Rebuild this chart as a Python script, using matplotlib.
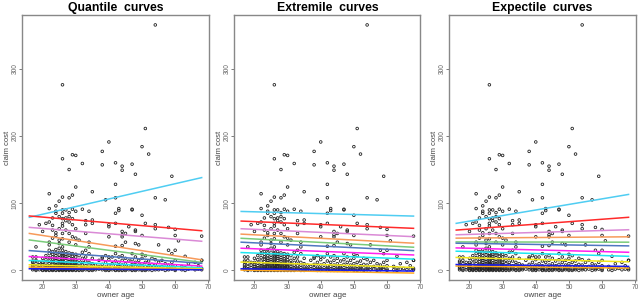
import matplotlib
matplotlib.use("Agg")
import matplotlib.pyplot as plt
import numpy as np

plt.rcParams["font.family"] = ["Liberation Sans", "DejaVu Sans"]

# --- scatter data (owner age, claim cost) ---
hi_age = [54, 26, 51, 40, 50, 38, 52, 29, 30, 26, 42, 32, 47, 38, 44, 44, 28, 48, 59,
          42, 30, 35, 22, 29, 28, 42, 54, 39, 57, 26, 25, 24, 22]
hi_cost = [365, 276, 211, 191, 184, 177, 173, 172, 171, 166, 160, 159, 158, 157, 155, 149,
           150, 143, 140, 128, 124, 117, 114, 112, 108, 108, 108, 105, 105, 109, 103, 96, 92]

mid_age = [22, 23, 23, 24, 24, 25, 25, 26, 26, 26, 26, 26, 26, 26, 27, 27, 27, 27, 28, 28,
           28, 28, 29, 29, 29, 30, 30, 30, 31, 32, 33, 33, 34, 34, 35, 35, 33, 20, 19, 21,
           22, 22, 23, 23, 24, 24, 25, 25, 26, 28, 29, 30, 40, 40, 40, 42, 43, 43, 42, 44,
           44, 44, 45, 46, 47, 47, 48, 48, 48, 49, 50, 50, 51, 54, 54, 55, 58, 58, 59, 60,
           60, 60, 61, 63, 68, 68, 45, 42, 44, 38, 39, 40, 41]
mid_cost = [72, 78, 67, 88, 85, 80, 62, 90, 85, 77, 70, 66, 55, 47, 90, 78, 74, 60, 86, 80,
            72, 55, 91, 77, 68, 88, 62, 48, 45, 91, 74, 68, 88, 42, 75, 70, 55, 58, 68, 70,
            42, 38, 60, 48, 56, 52, 45, 40, 35, 42, 50, 38, 50, 65, 68, 85, 92, 89, 70, 58,
            53, 50, 55, 65, 91, 90, 60, 58, 40, 38, 82, 52, 70, 68, 62, 38, 64, 30, 25, 61,
            52, 30, 44, 21, 51, 15, 42, 36, 37, 20, 22, 20, 20]

low_age = ([17] * 7 + [18] * 7 + [19] * 4 + [20] * 7 + [21] * 8 + [22] * 10 + [23] * 11
           + [24] * 12 + [25] * 13 + [26] * 15 + [27] * 13 + [28] * 12 + [29] * 11
           + [30] * 10 + [31] * 7 + [32] * 7 + [33] * 6 + [34] * 7 + [35] * 5 + [36] * 3
           + [37] * 3 + [38] * 4 + [39] * 4 + [40] * 5 + [41] * 3 + [42] * 6 + [43] * 5
           + [44] * 6 + [45] * 5 + [46] * 4 + [47] * 6 + [48] * 5 + [49] * 4 + [50] * 6
           + [51] * 5 + [52] * 4 + [53] * 4 + [54] * 4 + [55] * 3 + [56] * 3 + [57] * 3
           + [58] * 3 + [59] * 3 + [60] * 4 + [62] * 2 + [63] * 2 + [64] * 2 + [65] * 1
           + [66] * 2 + [67] * 2 + [68] * 3)
low_cost = [20, 14, 8, 5, 3, 1, 12,
            35, 20, 15, 10, 6, 2, 0,
            12, 8, 4, 1,
            18, 12, 9, 6, 3, 1, 0,
            22, 16, 11, 7, 4, 2, 1, 0,
            30, 25, 19, 14, 10, 7, 5, 3, 1, 0,
            28, 24, 20, 17, 13, 9, 6, 4, 2, 1, 0,
            31, 26, 22, 18, 15, 12, 9, 7, 5, 3, 1, 0,
            33, 27, 23, 19, 16, 13, 10, 8, 6, 4, 2, 1, 0,
            30, 25, 22, 20, 17, 14, 12, 10, 8, 6, 4, 3, 2, 1, 0,
            28, 24, 21, 18, 15, 11, 9, 7, 5, 3, 2, 1, 0,
            26, 23, 19, 16, 13, 10, 8, 6, 4, 2, 1, 0,
            25, 21, 17, 14, 11, 8, 6, 4, 2, 1, 0,
            24, 20, 16, 12, 9, 7, 5, 3, 1, 0,
            22, 15, 10, 6, 3, 1, 0,
            27, 18, 12, 8, 4, 2, 0,
            30, 20, 14, 7, 3, 1,
            35, 25, 12, 8, 4, 1, 0,
            18, 10, 5, 2, 0,
            8, 3, 1,
            15, 6, 2,
            18, 9, 4, 1,
            12, 5, 2, 0,
            16, 8, 3, 1, 0,
            10, 4, 1,
            25, 14, 7, 3, 1, 0,
            20, 12, 6, 2, 0,
            22, 15, 8, 4, 1, 0,
            18, 10, 5, 2, 0,
            14, 7, 3, 1,
            25, 16, 9, 4, 1, 0,
            20, 12, 6, 2, 0,
            15, 8, 3, 1,
            24, 18, 10, 5, 2, 0,
            22, 12, 6, 2, 0,
            14, 7, 3, 1,
            18, 9, 4, 0,
            16, 8, 3, 1,
            12, 5, 1,
            15, 6, 2,
            10, 4, 0,
            8, 3, 1,
            12, 5, 2,
            15, 7, 2, 0,
            6, 1,
            4, 0,
            10, 2,
            3,
            12, 1,
            7, 2,
            15, 3, 1]

# --- fitted lines: value at age 16 and at age 68 ---
line_ages = [16, 68]
line_colors = ["#4FCDF2", "#FF2A2A", "#DA8AD6", "#F79A5A", "#7ACB7A", "#4F77C0",
               "#FF20F0", "#1CE6F2", "#F2E81A", "#FFAA20", "#1A1AF0"]
quantile_start = [79, 81, 64, 55, 45.3, 29.5, 20.7, 14.8, 8.4, 5, 2.5]
quantile_end = [138, 59, 43.4, 15.8, 12, 10.5, 6.5, 4, 2.5, 1.5, 1]
extremile_start = [87.7, 73.4, 62, 54, 47.8, 42, 33, 26.6, 12.4, 0.5, 2.5]
extremile_end = [80.8, 62.6, 50.2, 40.5, 34.5, 29.5, 23, 16.8, 4.5, -3.9, -1]
expectile_start = [70, 60, 53, 48, 42.4, 40.5, 33.5, 28.6, 19.3, 6.5, 8.8]
expectile_end = [113, 79, 60.5, 50, 42, 36.5, 27, 21, 12.8, 3.5, 6]

titles = ["Quantile  curves", "Extremile  curves", "Expectile  curves"]

owner_age = np.array(hi_age + mid_age + low_age)
claim_cost = np.array(hi_cost + mid_cost + low_cost)

fig = plt.figure(figsize=(6.4, 3.02), dpi=100)
lefts = [0.035, 0.366, 0.702]
fits = [(quantile_start, quantile_end), (extremile_start, extremile_end),
        (expectile_start, expectile_end)]

for left, title, (y0, y1) in zip(lefts, titles, fits):
    ax = fig.add_axes([left, 0.072, 0.291, 0.878])
    ax.scatter(owner_age, claim_cost, s=3.5, facecolors="none", edgecolors="#222222",
               linewidths=0.6, zorder=2)
    for c, a, b in zip(line_colors, y0, y1):
        ax.plot(line_ages, [a, b], color=c, lw=1.1, zorder=3)
    ax.set_xlim(13.9, 70.1)
    ax.set_ylim(-14.6, 379.6)
    ax.set_xticks([20, 30, 40, 50, 60, 70])
    ax.set_yticks([0, 100, 200, 300])
    ax.tick_params(axis="both", labelsize=4.8, colors="#666666", length=2, width=0.6,
                   pad=0.8)
    for lab in ax.get_yticklabels():
        lab.set_rotation(90)
        lab.set_va("center")
    for sp in ax.spines.values():
        sp.set_color("#888888")
        sp.set_linewidth(1.0)
    ax.set_xlabel("owner age", fontsize=5.8, color="#444444", labelpad=0.5)
    ax.set_ylabel("claim cost", fontsize=5.5, color="#444444", labelpad=0.5)
    ax.set_title(title, fontsize=8.8, fontweight="bold", pad=3)

plt.savefig("out.png", dpi=100)
